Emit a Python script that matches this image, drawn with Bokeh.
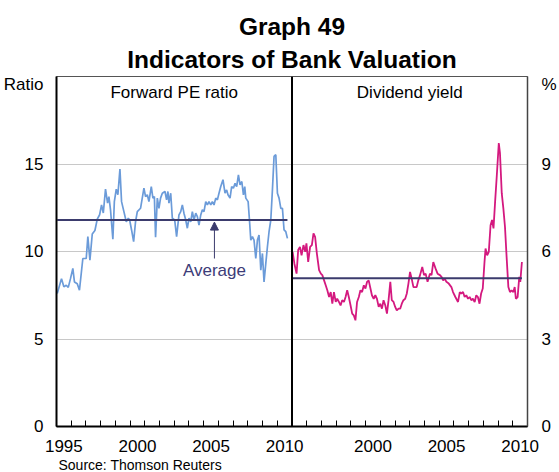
from bokeh.plotting import figure
from bokeh.models import (Range1d, LinearAxis, FixedTicker, Grid, Span, Label,
                          Arrow, NormalHead, Title)
from bokeh.embed import file_html
from bokeh.resources import INLINE

# ---------------- data ----------------
pe_year = [1995.05, 1995.34, 1995.50, 1995.66, 1995.80, 1995.95, 1996.11, 1996.22, 1996.41, 1996.56,
           1996.79, 1997.02, 1997.13, 1997.27, 1997.43, 1997.61, 1997.77, 1997.93, 1998.06, 1998.18,
           1998.33, 1998.47, 1998.56, 1998.67, 1998.83, 1998.93, 1999.06, 1999.17, 1999.31, 1999.42,
           1999.58, 1999.74, 1999.88, 1999.97, 2000.10, 2000.24, 2000.37, 2000.49, 2000.71, 2000.94,
           2001.05, 2001.17, 2001.28, 2001.44, 2001.55, 2001.65, 2001.73, 2001.85, 2001.96, 2002.07,
           2002.19, 2002.37, 2002.48, 2002.57, 2002.64, 2002.76, 2002.87, 2003.03, 2003.16, 2003.32,
           2003.44, 2003.55, 2003.66, 2003.78, 2003.89, 2004.00, 2004.12, 2004.23, 2004.34, 2004.46,
           2004.57, 2004.68, 2004.80, 2004.91, 2005.02, 2005.14, 2005.25, 2005.36, 2005.48, 2005.59,
           2005.70, 2005.82, 2005.93, 2006.04, 2006.16, 2006.31, 2006.45, 2006.56, 2006.65, 2006.79,
           2006.90, 2007.02, 2007.13, 2007.24, 2007.36, 2007.47, 2007.59, 2007.70, 2007.79, 2007.86,
           2008.02, 2008.11, 2008.20, 2008.31, 2008.42, 2008.54, 2008.65, 2008.76, 2008.88, 2008.99,
           2009.10, 2009.22, 2009.33, 2009.44, 2009.56, 2009.67, 2009.78, 2009.90, 2010.01, 2010.12,
           2010.24, 2010.35, 2010.46, 2010.58, 2010.69]
pe_value = [7.6, 8.45, 7.98, 8.07, 7.95, 8.45, 9.03, 8.26, 8.16, 7.79,
            9.6, 9.6, 10.85, 9.5, 11.0, 11.2, 11.85, 12.1, 12.66, 12.2,
            13.56, 12.76, 13.14, 12.38, 10.7, 12.85, 13.56, 13.24, 14.71, 12.85,
            12.28, 11.7, 11.9, 11.8, 11.23, 10.56, 11.7, 12.28, 12.47, 13.62,
            13.14, 13.24, 12.85, 13.71, 13.05, 13.14, 10.81, 13.05, 12.47, 13.05,
            13.33, 13.43, 12.95, 13.43, 12.76, 13.33, 11.9, 11.8, 10.85, 12.09,
            12.28, 12.66, 12.19, 11.8, 11.33, 11.9, 11.7, 12.28, 11.8, 12.19,
            11.99, 11.51, 12.09, 12.38, 12.28, 12.85, 12.66, 12.85, 12.66, 12.85,
            12.66, 13.05, 12.95, 13.33, 13.71, 14.1, 13.33, 13.52, 13.24, 13.05,
            13.71, 13.62, 13.9, 13.71, 14.38, 13.81, 14.0, 13.24, 13.71, 13.05,
            12.85, 11.8, 10.65, 10.85, 10.65, 9.6, 10.65, 10.94, 8.93, 9.89,
            8.26, 9.32, 10.27, 11.13, 11.8, 13.52, 15.43, 15.53, 13.33, 13.05,
            12.47, 12.47, 11.23, 11.13, 10.75]
pe_average = 11.8

dy_year = [1995.04, 1995.16, 1995.31, 1995.42, 1995.54, 1995.65, 1995.78, 1995.90, 1995.98, 1996.10,
           1996.23, 1996.35, 1996.46, 1996.57, 1996.69, 1996.84, 1996.96, 1997.06, 1997.18, 1997.29,
           1997.40, 1997.52, 1997.63, 1997.74, 1997.85, 1997.97, 1998.07, 1998.19, 1998.30, 1998.41,
           1998.53, 1998.64, 1998.75, 1998.86, 1998.98, 1999.09, 1999.20, 1999.31, 1999.42, 1999.54,
           1999.65, 1999.76, 1999.88, 1999.99, 2000.10, 2000.21, 2000.33, 2000.43, 2000.55, 2000.66,
           2000.77, 2000.89, 2001.00, 2001.11, 2001.22, 2001.34, 2001.45, 2001.56, 2001.68, 2001.78,
           2001.90, 2002.01, 2002.12, 2002.24, 2002.35, 2002.46, 2002.57, 2002.69, 2002.80, 2002.91,
           2003.02, 2003.13, 2003.25, 2003.47, 2003.58, 2003.70, 2003.85, 2003.97, 2004.08, 2004.21,
           2004.37, 2004.48, 2004.60, 2004.75, 2004.89, 2005.05, 2005.16, 2005.27, 2005.38, 2005.49,
           2005.65, 2005.83, 2005.94, 2006.10, 2006.28, 2006.40, 2006.50, 2006.62, 2006.73, 2006.84,
           2006.96, 2007.07, 2007.18, 2007.29, 2007.41, 2007.52, 2007.63, 2007.74, 2007.85, 2007.96,
           2008.08, 2008.15, 2008.26, 2008.37, 2008.49, 2008.59, 2008.69, 2008.80, 2008.91, 2009.05,
           2009.13, 2009.25, 2009.36, 2009.47, 2009.58, 2009.70, 2009.81, 2009.92, 2010.04, 2010.13,
           2010.21, 2010.33, 2010.44, 2010.51, 2010.62]
dy_value = [5.99, 5.59, 5.24, 6.05, 6.16, 5.87, 6.22, 5.99, 6.28, 5.64,
            6.16, 6.22, 6.62, 6.5, 5.93, 5.36, 5.24, 5.19, 5.01, 4.84,
            4.67, 4.44, 4.61, 4.21, 4.61, 4.27, 4.38, 4.27, 4.15, 4.33,
            4.27, 4.44, 4.67, 4.44, 4.15, 3.87, 3.81, 3.64, 4.27, 4.44,
            4.67, 4.61, 4.84, 4.73, 4.96, 5.01, 4.73, 4.5, 4.38, 4.5,
            4.38, 4.1, 4.21, 4.04, 4.33, 4.15, 3.87, 4.33, 4.96, 4.33,
            4.27, 4.1, 3.98, 4.04, 4.04, 4.21, 4.33, 4.38, 4.56, 4.9,
            5.3, 5.07, 4.78, 4.78, 5.01, 5.19, 5.47, 5.19, 5.24, 4.96,
            5.24, 5.19, 5.64, 5.42, 5.24, 5.19, 5.13, 5.01, 5.07, 4.96,
            4.9, 4.78, 4.61, 4.44, 4.27, 4.61, 4.56, 4.61, 4.44, 4.5,
            4.38, 4.44, 4.33, 4.38, 4.27, 4.5, 4.44, 4.21, 4.56, 4.73,
            5.65, 6.1, 5.87, 5.99, 6.9, 7.08, 6.79, 7.71, 8.57, 9.72,
            9.37, 8.0, 7.48, 6.85, 5.82, 4.78, 4.61, 4.67, 4.61, 4.78,
            4.38, 4.44, 5.13, 4.96, 5.64]
dy_average = 5.08

year_labels = ["1995", "2000", "2005", "2010"]
right_year_labels = ["2000", "2005", "2010"]
left_ticks = [0, 5, 10, 15]
right_ticks = [0, 3, 6, 9]
grid_ticks = [5, 10, 15]
left_unit, right_unit = "Ratio", "%"

# ---------------- styling ----------------
FONT = "Liberation Sans"
BLUE = "#6b9bd9"
MAGENTA = "#d4197f"
NAVY = "#3b3b6d"

first_year, last_year = 1995, 2011
span = last_year - first_year   # 16 years per panel
y_max_l, y_max_r = 20, 12

p = figure(width=559, height=472, title=None,
           x_range=Range1d(first_year, last_year + span),
           y_range=Range1d(0, y_max_l),
           x_axis_type=None, y_axis_type=None,
           output_backend="svg", toolbar_location=None,
           min_border_left=56, min_border_right=29,
           min_border_top=76, min_border_bottom=46)
p.extra_x_ranges = {"right": Range1d(first_year - span, last_year)}
p.extra_y_ranges = {"right": Range1d(0, y_max_r)}
p.outline_line_color = "#555555"
p.outline_line_width = 1
p.background_fill_color = "white"
p.border_fill_color = "white"

# grid
p.add_layout(Grid(dimension=1, ticker=FixedTicker(ticks=grid_ticks),
                  grid_line_color="#c8c8c8", grid_line_width=1))

# bottom axis (both panels on one line)
label_pos = [int(y) + 0.5 for y in year_labels] + \
            [int(y) + span + 0.5 for y in right_year_labels]
overrides = {pos: lab for pos, lab in zip(label_pos, year_labels + right_year_labels)}
minor = list(range(first_year, last_year + span + 1))
xaxis = LinearAxis(ticker=FixedTicker(ticks=label_pos, minor_ticks=minor),
                   major_label_overrides=overrides,
                   major_tick_line_color=None,
                   minor_tick_in=6, minor_tick_out=0,
                   minor_tick_line_color="black", minor_tick_line_width=1,
                   axis_line_color="black", axis_line_width=2,
                   major_label_standoff=7,
                   major_label_text_font=FONT, major_label_text_font_size="17px",
                   major_label_text_color="black")
p.add_layout(xaxis, "below")

# unit labels sit at the top of each value axis
unit_pos_l = y_max_l - 0.46
unit_pos_r = y_max_r - 0.28

# left axis
yaxis_l = LinearAxis(ticker=FixedTicker(ticks=left_ticks + [unit_pos_l]),
                     major_label_overrides={unit_pos_l: left_unit},
                     major_tick_line_color=None, minor_tick_line_color=None,
                     axis_line_color="black", axis_line_width=2,
                     major_label_standoff=7,
                     major_label_text_font=FONT, major_label_text_font_size="17px",
                     major_label_text_color="black")
p.add_layout(yaxis_l, "left")

# right axis
yaxis_r = LinearAxis(y_range_name="right",
                     ticker=FixedTicker(ticks=right_ticks + [unit_pos_r]),
                     major_label_overrides={unit_pos_r: right_unit},
                     major_tick_line_color=None, minor_tick_line_color=None,
                     axis_line_color="#444444", axis_line_width=1.5,
                     major_label_standoff=8,
                     major_label_text_font=FONT, major_label_text_font_size="17px",
                     major_label_text_color="black")
p.add_layout(yaxis_r, "right")

# panel divider
p.add_layout(Span(location=last_year, dimension="height",
                  line_color="black", line_width=2))

# series
p.line(pe_year, pe_value, line_color=BLUE, line_width=1.7)
p.line(dy_year, dy_value, line_color=MAGENTA, line_width=1.8,
       x_range_name="right", y_range_name="right")

# averages
p.line([pe_year[0], pe_year[-1]], [pe_average, pe_average],
       line_color=NAVY, line_width=2)
p.line([dy_year[0], dy_year[-1]], [dy_average, dy_average],
       line_color=NAVY, line_width=2,
       x_range_name="right", y_range_name="right")

# "Average" annotation with arrow
arrow_x = 2005.73
p.add_layout(Arrow(x_start=arrow_x, y_start=9.6, x_end=arrow_x, y_end=pe_average - 0.12,
                   line_color=NAVY, line_width=1,
                   end=NormalHead(size=8, fill_color=NAVY, line_color=NAVY)))
p.add_layout(Label(x=arrow_x, y=156, y_units="screen", text="Average",
                   text_align="center", text_baseline="alphabetic",
                   text_font=FONT, text_font_size="17px", text_color="#3c3c78"))

# panel titles
p.add_layout(Label(x=(first_year + last_year) / 2, y=325, y_units="screen",
                   text="Forward PE ratio", text_align="center",
                   text_font=FONT, text_font_size="17px", text_color="black"))
p.add_layout(Label(x=(first_year + last_year) / 2, y=325, y_units="screen",
                   x_range_name="right",
                   text="Dividend yield", text_align="center",
                   text_font=FONT, text_font_size="17px", text_color="black"))

# main titles (closest to the frame first)
p.add_layout(Title(text="Indicators of Bank Valuation", align="center",
                   text_font=FONT, text_font_size="24.5px", text_font_style="bold",
                   text_color="black", standoff=8), "above")
p.add_layout(Title(text="Graph 49", align="center",
                   text_font=FONT, text_font_size="24.5px", text_font_style="bold",
                   text_color="black", offset=4, standoff=0), "above")

# source
p.add_layout(Title(text="Source: Thomson Reuters", align="left", offset=2,
                   text_font=FONT, text_font_size="14px", text_font_style="normal",
                   text_color="black", standoff=0), "below")

open("out.html", "w").write(file_html(p, INLINE))
